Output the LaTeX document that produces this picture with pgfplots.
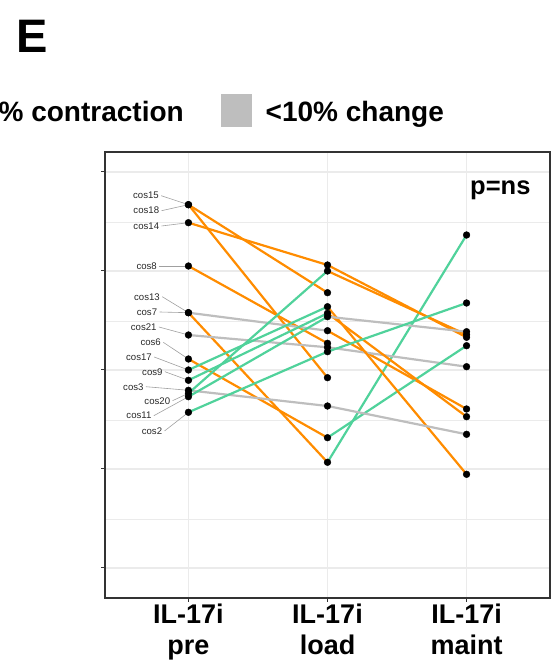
\documentclass[border=0pt]{standalone}
\usepackage{fontspec}
\setmainfont{Liberation Sans}
\usepackage{pgfplots}
\pgfplotsset{compat=1.18}
\definecolor{cOrange}{RGB}{255,140,0}
\definecolor{cGreen}{RGB}{80,210,155}
\definecolor{cGray}{RGB}{190,190,190}
\definecolor{gridgray}{RGB}{235,235,235}
\definecolor{border}{RGB}{51,51,51}
\definecolor{leader}{RGB}{160,160,160}
\begin{document}
\begin{tikzpicture}[x=1pt,y=1pt]
\begin{axis}[
  at={(105pt,74pt)}, anchor=south west,
  width=445pt, height=446pt, scale only axis,
  xmin=0.4, xmax=3.6, ymin=2, ymax=448,
  xtick={1,2,3},
  xticklabels={{IL-17i\\pre},{IL-17i\\load},{IL-17i\\maint}},
  xticklabel style={align=center, font=\fontsize{27}{31}\selectfont\bfseries, text=black, inner sep=2pt},
  ytick={32,131,230,329,428}, yticklabels={},
  minor ytick={80.5,179.5,278.5,377.5},
  grid=both,
  major grid style={color=gridgray, line width=1.3pt},
  minor grid style={color=gridgray, line width=0.8pt},
  axis line style={color=border, line width=1.1pt},
  tick style={color=border, line width=1pt},
  tick align=outside, major tick length=4pt, minor tick length=0pt,
  xtick pos=bottom, ytick pos=left,
  clip=false,
]
% leader lines and point labels
\pgfplotsinvokeforeach{
  {0.7883/404.3/1/395.3/cos15},
  {0.7905/389.3/1/395.3/cos18},
  {0.7905/374.0/1/377.3/cos14},
  {0.7739/334.0/1/334.0/cos8},
  {0.7955/303.3/1/287.3/cos13},
  {0.7761/288.0/1/287.3/cos7},
  {0.7718/273.0/1/265.0/cos21},
  {0.8027/257.7/1/241.0/cos6},
  {0.7380/243.0/1/230.0/cos17},
  {0.8149/228.3/1/219.7/cos9},
  {0.6783/213.3/1/209.7/cos3},
  {0.8696/199.3/1/206.7/cos20},
  {0.7351/184.3/1/203.3/cos11},
  {0.8120/169.0/1/187.7/cos2}}{
  \pgfplotsextra{\foreach \lx/\ly/\px/\py/\nm in {#1}{
    \draw[leader, line width=0.6pt] (axis cs:\lx+0.016,\ly) -- (axis cs:\px,\py);
    \node[anchor=east, inner sep=0pt, font=\fontsize{9.6}{10}\selectfont, text={rgb,255:red,40;green,40;blue,40}] at (axis cs:\lx,\ly) {\nm};
  }}
}
% pre -> load segments
\addplot[cOrange, line width=2.2pt] coordinates {(1,395.3) (2,307.3)}; % cos15
\addplot[cOrange, line width=2.2pt] coordinates {(1,395.3) (2,222.3)}; % cos18
\addplot[cOrange, line width=2.2pt] coordinates {(1,377.3) (2,335.0)}; % cos14
\addplot[cOrange, line width=2.2pt] coordinates {(1,334.0) (2,256.7)}; % cos8
\addplot[cOrange, line width=2.2pt] coordinates {(1,287.3) (2,137.7)}; % cos7
\addplot[cGray,   line width=2.2pt] coordinates {(1,287.3) (2,269.3)}; % cos13
\addplot[cGray,   line width=2.2pt] coordinates {(1,265.0) (2,252.7)}; % cos21
\addplot[cOrange, line width=2.2pt] coordinates {(1,241.0) (2,162.3)}; % cos6
\addplot[cGreen,  line width=2.2pt] coordinates {(1,230.0) (2,293.3)}; % cos17
\addplot[cGreen,  line width=2.2pt] coordinates {(1,219.7) (2,286.7)}; % cos9
\addplot[cGray,   line width=2.2pt] coordinates {(1,209.7) (2,194.0)}; % cos3
\addplot[cGreen,  line width=2.2pt] coordinates {(1,206.7) (2,329.0)}; % cos20
\addplot[cGreen,  line width=2.2pt] coordinates {(1,203.3) (2,283.3)}; % cos11
\addplot[cGreen,  line width=2.2pt] coordinates {(1,187.7) (2,248.3)}; % cos2
% load -> maint segments
\addplot[cOrange, line width=2.2pt] coordinates {(2,335.0) (3,262.7)}; % cos14
\addplot[cGreen,  line width=2.2pt] coordinates {(2,137.7) (3,365.0)}; % cos7
\addplot[cOrange, line width=2.2pt] coordinates {(2,269.3) (3,191.0)}; % cos13
\addplot[cGray,   line width=2.2pt] coordinates {(2,252.7) (3,233.3)}; % cos21
\addplot[cGreen,  line width=2.2pt] coordinates {(2,162.3) (3,254.3)}; % cos6
\addplot[cOrange, line width=2.2pt] coordinates {(2,293.3) (3,125.7)}; % cos17
\addplot[cOrange, line width=2.2pt] coordinates {(2,286.7) (3,183.3)}; % cos9
\addplot[cGray,   line width=2.2pt] coordinates {(2,194.0) (3,165.7)}; % cos3
\addplot[cOrange, line width=2.2pt] coordinates {(2,329.0) (3,265.3)}; % cos20
\addplot[cGray,   line width=2.2pt] coordinates {(2,283.3) (3,268.3)}; % cos11
\addplot[cGreen,  line width=2.2pt] coordinates {(2,248.3) (3,297.0)}; % cos2
% points
\addplot[only marks, mark=*, mark size=3.4pt, black] coordinates {
 (1,395.3) (1,395.3) (1,377.3) (1,334.0) (1,287.3) (1,287.3) (1,265.0)
 (1,241.0) (1,230.0) (1,219.7) (1,209.7) (1,206.7) (1,203.3) (1,187.7)
 (2,307.3) (2,222.3) (2,335.0) (2,256.7) (2,137.7) (2,269.3) (2,252.7)
 (2,162.3) (2,293.3) (2,286.7) (2,194.0) (2,329.0) (2,283.3) (2,248.3)
 (3,262.7) (3,365.0) (3,191.0) (3,233.3) (3,254.3) (3,125.7) (3,183.3)
 (3,165.7) (3,265.3) (3,268.3) (3,297.0)};
\node[anchor=base west, inner sep=0pt, font=\fontsize{25.5}{28}\selectfont\bfseries] at (axis cs:3.025,405) {p=ns};
\end{axis}
% panel letter and legend
\node[anchor=base west, inner sep=0pt, font=\fontsize{47}{50}\selectfont\bfseries] at (16,619.3) {E};
\node[anchor=base east, inner sep=0pt, font=\fontsize{28}{30}\selectfont\bfseries] at (184,550.3) {\% contraction};
\fill[cGray] (221,545.3) rectangle (252,578);
\node[anchor=base west, inner sep=0pt, font=\fontsize{28}{30}\selectfont\bfseries] at (265.5,550.3) {<10\% change};
\pgfresetboundingbox
\useasboundingbox (0,0) rectangle (555,672);
\end{tikzpicture}
\end{document}
